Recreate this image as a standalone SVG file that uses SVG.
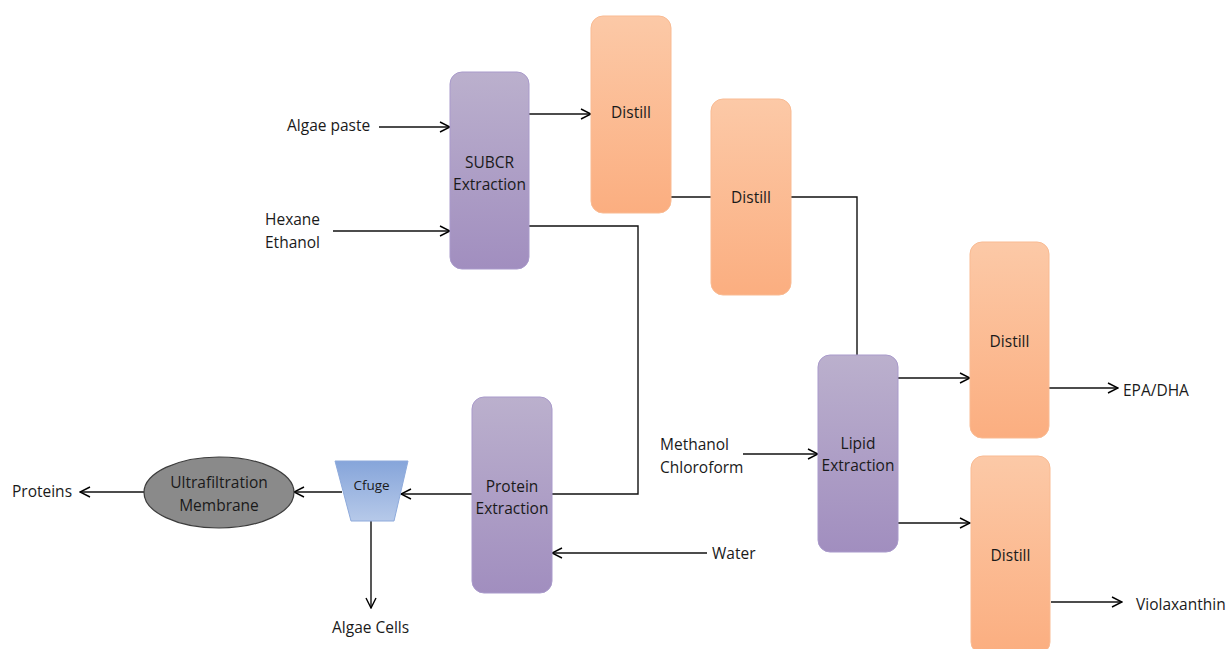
<svg xmlns="http://www.w3.org/2000/svg" width="1228" height="649" viewBox="0 0 1228 649">
  <defs>
    <linearGradient id="purple" x1="0" y1="0" x2="0" y2="1">
      <stop offset="0" stop-color="#bbb0cd"/>
      <stop offset="1" stop-color="#a18ebf"/>
    </linearGradient>
    <linearGradient id="orange" x1="0" y1="0" x2="0" y2="1">
      <stop offset="0" stop-color="#fcc9a7"/>
      <stop offset="1" stop-color="#fbae80"/>
    </linearGradient>
    <linearGradient id="blue" x1="0" y1="0" x2="0" y2="1">
      <stop offset="0" stop-color="#86a5da"/>
      <stop offset="1" stop-color="#b6c9e9"/>
    </linearGradient>
    <marker id="arrow" viewBox="0 0 12 12" refX="11" refY="6" markerWidth="12" markerHeight="12" markerUnits="userSpaceOnUse" orient="auto">
      <path d="M1,1 L11,6 L1,11" fill="none" stroke="#000" stroke-width="1.4"/>
    </marker>
    <style>
      .proc { fill: url(#purple); stroke: #a99acb; stroke-width: 1; }
      .dist { fill: url(#orange); stroke: #f9bb93; stroke-width: 1; }
      .lbl { font-family: "Open Sans", "Liberation Sans", sans-serif; font-size: 15.5px; fill: #1a1a1a; text-anchor: middle; }
      .txt { font-family: "Open Sans", "Liberation Sans", sans-serif; font-size: 15.5px; fill: #1a1a1a; }
      .ln { fill: none; stroke: #111; stroke-width: 1.4; }
      .arr { fill: none; stroke: #111; stroke-width: 1.4; marker-end: url(#arrow); }
    </style>
  </defs>

  <rect width="1228" height="649" fill="#fff"/>

  <!-- connectors -->
  <g id="connectors">
    <path class="arr" d="M379,127 L450,127"/>
    <path class="arr" d="M333,231 L450,231"/>
    <path class="arr" d="M529,114 L591,114"/>
    <path class="ln" d="M671,197 L711,197"/>
    <path class="ln" d="M791,197 L857,197 L857,355"/>
    <path class="ln" d="M529,226 L638,226 L638,494 L552,494"/>
    <path class="arr" d="M472,494 L401,494"/>
    <path class="arr" d="M342,492 L294,492"/>
    <path class="arr" d="M144,492 L80,492"/>
    <path class="arr" d="M371,521 L371,608"/>
    <path class="arr" d="M707,553 L552,553"/>
    <path class="arr" d="M743,454 L818,454"/>
    <path class="arr" d="M898,378 L970,378"/>
    <path class="arr" d="M898,523 L970,523"/>
    <path class="arr" d="M1049,388 L1118,388"/>
    <path class="arr" d="M1051,602 L1122,602"/>
  </g>

  <!-- process units -->
  <g id="subcr">
    <rect class="proc" x="450" y="72" width="79" height="197" rx="12"/>
    <text class="lbl" x="489.5" y="168">SUBCR</text>
    <text class="lbl" x="489.5" y="190">Extraction</text>
  </g>
  <g id="distill1">
    <rect class="dist" x="591" y="16" width="80" height="197" rx="12"/>
    <text class="lbl" x="631" y="118">Distill</text>
  </g>
  <g id="distill2">
    <rect class="dist" x="711" y="99" width="80" height="196" rx="12"/>
    <text class="lbl" x="751" y="203">Distill</text>
  </g>
  <g id="protein">
    <rect class="proc" x="472" y="397" width="80" height="196" rx="12"/>
    <text class="lbl" x="512" y="492">Protein</text>
    <text class="lbl" x="512" y="514">Extraction</text>
  </g>
  <g id="lipid">
    <rect class="proc" x="818" y="355" width="80" height="197" rx="12"/>
    <text class="lbl" x="858" y="449">Lipid</text>
    <text class="lbl" x="858" y="471">Extraction</text>
  </g>
  <g id="distill3">
    <rect class="dist" x="970" y="242" width="79" height="196" rx="12"/>
    <text class="lbl" x="1009.5" y="347">Distill</text>
  </g>
  <g id="distill4">
    <rect class="dist" x="971" y="456" width="79" height="198" rx="12"/>
    <text class="lbl" x="1010.5" y="561">Distill</text>
  </g>
  <g id="cfuge">
    <polygon points="335,461 408,461 394,521 351,521" fill="url(#blue)" stroke="#8eaadb" stroke-width="1"/>
    <text class="lbl" x="371.5" y="490" style="font-size:13.5px">Cfuge</text>
  </g>
  <g id="ultrafiltration">
    <ellipse cx="219" cy="492.5" rx="75" ry="35.5" fill="#8a8a8a" stroke="#3c3c3c" stroke-width="1.2"/>
    <text class="lbl" x="219" y="488">Ultrafiltration</text>
    <text class="lbl" x="219" y="511">Membrane</text>
  </g>

  <!-- stream labels -->
  <g id="labels">
    <text class="txt" x="287" y="131">Algae paste</text>
    <text class="txt" x="265" y="225">Hexane</text>
    <text class="txt" x="265" y="248">Ethanol</text>
    <text class="txt" x="660" y="450">Methanol</text>
    <text class="txt" x="660" y="473">Chloroform</text>
    <text class="txt" x="712" y="559">Water</text>
    <text class="txt" x="12" y="497">Proteins</text>
    <text class="txt" x="332" y="633">Algae Cells</text>
    <text class="txt" x="1123" y="396">EPA/DHA</text>
    <text class="txt" x="1136" y="610">Violaxanthin</text>
  </g>
</svg>
